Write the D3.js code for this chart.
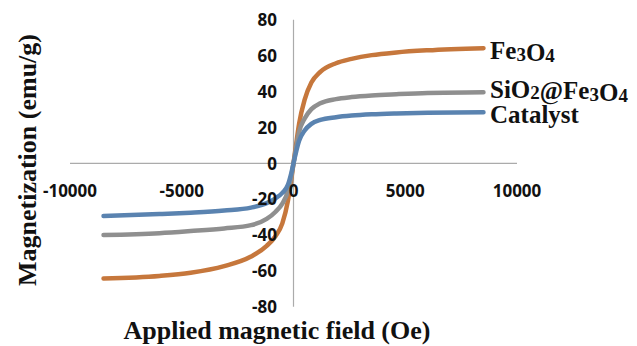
<!DOCTYPE html>
<html>
<head>
<meta charset="utf-8">
<script src="https://cdn.jsdelivr.net/npm/d3@7"></script>
<style>
    body { margin: 0; background: #fff; }
    svg { display: block; }
</style>
</head>
<body>
<div id="chart"></div>
<script>
// Applied field (Oe)
const fieldValues = [-8500, -6000, -4600, -3100, -1900, -1200, -800, -500, -250, -100, 0, 100, 250, 500, 800, 1200, 1900, 2600, 3500, 4600, 6000, 8500]

// Magnetization (emu/g) per sample
const fe3o4Values = [-64.2, -62.8, -61, -57.3, -52, -46, -40.5, -33.5, -21, -9, 0, 9, 22, 35.5, 45, 51, 55.8, 58.2, 60.3, 61.8, 63, 64.2]
const sio2Values = [-40, -39, -37.8, -36.3, -34.5, -31, -27, -22.5, -15.5, -7.5, 0, 7.5, 17.5, 25, 30.2, 33.5, 35.8, 36.9, 37.8, 38.5, 39.2, 39.6]
const catalystValues = [-29.4, -28.3, -27.5, -26.3, -24.7, -22.2, -19.5, -16.5, -12, -5.5, 0, 5.5, 12.5, 18.3, 22, 24.2, 25.7, 26.6, 27.3, 27.8, 28.2, 28.5]

const xTicks = [-10000, -5000, 0, 5000, 10000]
const yTicks = [-80, -60, -40, -20, 0, 20, 40, 60, 80]

const width = 637, height = 346

let svg = d3.select("#chart").append("svg")
    .attr("width", width)
    .attr("height", height)

let x = d3.scaleLinear().domain([-10000, 10000]).range([70, 517])
let y = d3.scaleLinear().domain([-80, 80]).range([306.8, 19.8])

// axes cross at origin
svg.append("line")
    .attr("x1", x(-10000)).attr("x2", x(10000))
    .attr("y1", y(0)).attr("y2", y(0))
    .attr("stroke", "#ababab").attr("stroke-width", 1.2)
svg.append("line")
    .attr("x1", x(0)).attr("x2", x(0))
    .attr("y1", y(80)).attr("y2", y(-80))
    .attr("stroke", "#ababab").attr("stroke-width", 1.2)

// curves
let series = [
    {name: "Fe3O4", values: fe3o4Values, color: "#c6773c"},
    {name: "SiO2@Fe3O4", values: sio2Values, color: "#8f8f8f"},
    {name: "Catalyst", values: catalystValues, color: "#5a83b0"}
]

let line = d3.line()
    .x((d, i) => x(fieldValues[i]))
    .y(d => y(d))
    .curve(d3.curveMonotoneX)

svg.selectAll(".curve")
    .data(series)
    .enter().append("path")
    .attr("class", "curve")
    .attr("d", d => line(d.values))
    .attr("fill", "none")
    .attr("stroke", d => d.color)
    .attr("stroke-width", 4.5)
    .attr("stroke-linecap", "round")

// tick labels
const tickFont = "'Open Sans', sans-serif"
svg.selectAll(".xlabels")
    .data(xTicks)
    .enter().append("text")
    .attr("class", "xlabels")
    .attr("x", d => x(d))
    .attr("y", 196.5)
    .attr("text-anchor", "middle")
    .style("font-family", tickFont)
    .style("font-weight", 700)
    .style("font-size", "17px")
    .style("fill", "#111")
    .text(d => d)

svg.selectAll(".ylabels")
    .data(yTicks)
    .enter().append("text")
    .attr("class", "ylabels")
    .attr("x", 277)
    .attr("y", d => y(d) + 6.2)
    .attr("text-anchor", "end")
    .style("font-family", tickFont)
    .style("font-weight", 700)
    .style("font-size", "17px")
    .style("fill", "#111")
    .text(d => d)

// legend labels at line ends, with subscripts
const serif = "'Liberation Serif', 'Times New Roman', serif"
let legendParts = [
    {parts: [["Fe"], ["3", true], ["O"], ["4", true]], y: 59},
    {parts: [["SiO"], ["2", true], ["@Fe"], ["3", true], ["O"], ["4", true]], y: 97.5},
    {parts: [["Catalyst"]], y: 122.5}
]
legendParts.forEach(item => {
    let t = svg.append("text")
        .attr("x", 490)
        .attr("y", item.y)
        .style("font-family", serif)
        .style("font-weight", 700)
        .style("font-size", "25px")
        .style("fill", "#111")
    item.parts.forEach(p => {
        t.append("tspan")
            .style("font-size", p[1] ? "19px" : "25px")
            .attr("dy", p[1] ? 1.5 : 0)
            .text(p[0])
        if (p[1]) {
            // step back to the baseline after a subscript
            t.append("tspan").attr("dy", -1.5).text("")
        }
    })
})

// axis titles
svg.append("text")
    .attr("x", 277)
    .attr("y", 338.5)
    .attr("text-anchor", "middle")
    .style("font-family", serif)
    .style("font-weight", 700)
    .style("font-size", "26px")
    .style("fill", "#111")
    .text("Applied magnetic field (Oe)")

svg.append("text")
    .attr("transform", `translate(35.5, 160) rotate(-90)`)
    .attr("text-anchor", "middle")
    .style("font-family", serif)
    .style("font-weight", 700)
    .style("font-size", "26px")
    .style("fill", "#111")
    .text("Magnetization (emu/g)")
</script>
</body>
</html>
